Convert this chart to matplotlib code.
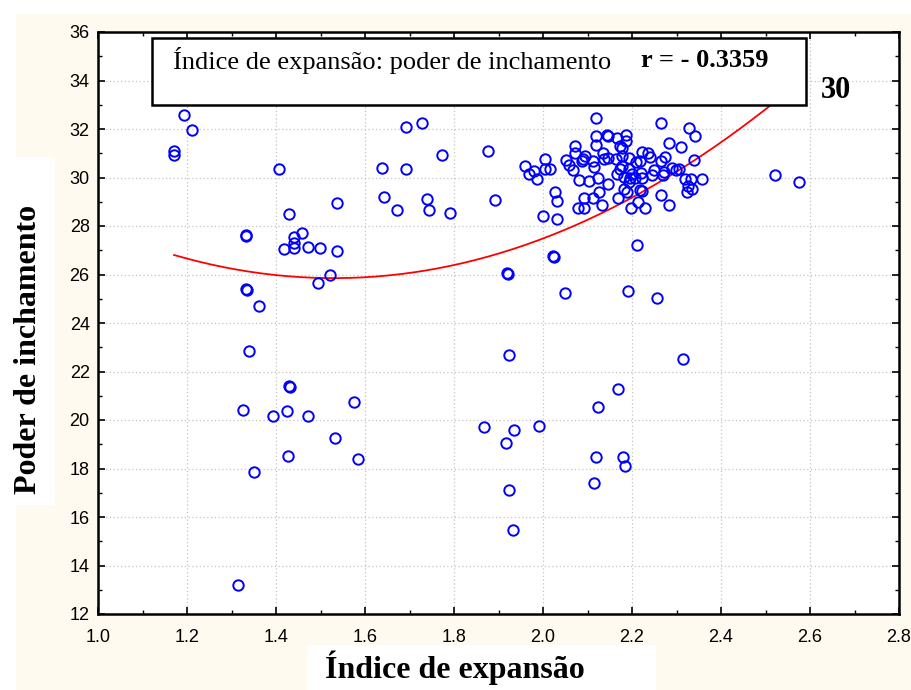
import matplotlib
matplotlib.use("Agg")
import matplotlib.pyplot as plt
import numpy as np
from matplotlib.patches import Rectangle
from matplotlib.ticker import MultipleLocator

# Índice de expansão (x) vs. poder de inchamento (y)
expansao = [
    1.171, 1.171, 1.193, 1.211, 1.407, 1.639, 1.643, 1.672, 1.538, 1.430,
    1.332, 1.333, 1.458, 1.440, 1.440, 1.440, 1.419, 1.473, 1.498, 1.538,
    1.521, 1.495, 1.332, 1.334, 1.362, 1.340, 1.430, 1.431, 1.326, 1.424,
    1.394, 1.473, 1.575, 1.532, 1.427, 1.585, 1.350, 1.315,
    1.693, 1.729, 1.773, 1.877, 1.693, 1.740, 1.744, 1.791, 1.892, 1.920,
    1.921, 2.022, 2.024, 2.049, 2.190, 2.212, 2.001, 2.031, 2.028, 2.031,
    1.923, 2.314, 2.169, 2.123, 1.867, 1.935, 1.992, 1.916, 2.118, 2.180,
    2.184, 2.115, 1.923, 1.932, 2.256, 2.522, 2.576,
    1.960, 1.969, 1.979, 1.986, 2.004, 2.004, 2.016, 2.119, 2.266, 2.328,
    2.342, 2.284, 2.309, 2.119, 2.143, 2.146, 2.167, 2.187, 2.187, 2.119,
    2.173, 2.178, 2.072, 2.072, 2.094, 2.051, 2.059, 2.068, 2.087, 2.091,
    2.112, 2.115, 2.135, 2.137, 2.145, 2.165, 2.177, 2.177, 2.194, 2.208,
    2.219, 2.223, 2.237, 2.241, 2.265, 2.274, 2.080, 2.104, 2.123, 2.147,
    2.166, 2.174, 2.181, 2.194, 2.195, 2.201, 2.207, 2.223, 2.220, 2.246,
    2.249, 2.270, 2.273, 2.291, 2.300, 2.305, 2.320, 2.332, 2.325, 2.335,
    2.323, 2.357, 2.339, 2.266, 2.284, 2.092, 2.112, 2.079, 2.093, 2.133,
    2.126, 2.169, 2.181, 2.189, 2.194, 2.217, 2.223, 2.213, 2.198, 2.230,
]
inchamento = [
    31.08, 30.92, 32.56, 31.97, 30.33, 30.40, 29.21, 28.68, 28.94, 28.48,
    27.61, 27.58, 27.71, 27.55, 27.31, 27.08, 27.04, 27.15, 27.09, 26.95,
    25.98, 25.64, 25.40, 25.36, 24.72, 22.86, 21.42, 21.38, 20.43, 20.37,
    20.17, 20.17, 20.76, 19.26, 18.53, 18.39, 17.87, 13.19,
    32.09, 32.23, 30.92, 31.11, 30.33, 29.13, 28.68, 28.54, 29.07, 26.05,
    26.02, 26.76, 26.73, 25.25, 25.32, 27.23, 28.41, 28.27, 29.40, 29.02,
    22.67, 22.53, 21.28, 20.55, 19.71, 19.57, 19.77, 19.05, 18.46, 18.46,
    18.11, 17.40, 17.12, 15.47, 25.04, 30.12, 29.80,
    30.46, 30.13, 30.26, 29.93, 30.78, 30.33, 30.33, 32.45, 32.24, 32.05,
    31.70, 31.43, 31.24, 31.72, 31.77, 31.72, 31.63, 31.76, 31.51, 31.32,
    31.29, 31.21, 31.30, 30.99, 30.89, 30.73, 30.53, 30.30, 30.68, 30.78,
    30.66, 30.44, 31.00, 30.75, 30.82, 30.78, 30.88, 30.49, 30.82, 30.64,
    30.68, 31.06, 30.99, 30.85, 30.67, 30.85, 29.89, 29.87, 29.98, 29.75,
    30.13, 30.37, 30.01, 30.34, 29.97, 30.13, 29.97, 29.98, 30.20, 30.09,
    30.31, 30.12, 30.23, 30.40, 30.31, 30.35, 29.92, 29.92, 29.67, 29.54,
    29.40, 29.93, 30.74, 29.28, 28.87, 29.14, 29.14, 28.76, 28.76, 28.88,
    29.40, 29.16, 29.54, 29.40, 29.80, 29.50, 29.45, 29.01, 28.76, 28.74,
]

# quadratic trend as drawn in the reference: vertex and curvature
curva_vertice_x = 1.53
curva_vertice_y = 25.85
curva_a = 7.4

titulo = "Índice de expansão: poder de inchamento"
r_texto = "r = - 0.3359"
canto_texto = "30"
x_label = "Índice de expansão"
y_label = "Poder de inchamento"

CREAM = "#fffaf0"
serif = ["Liberation Serif", "DejaVu Serif"]
sans = ["Liberation Sans", "DejaVu Sans"]

fig = plt.figure(figsize=(9.11, 6.9), dpi=100, facecolor="white")
fig.patches.append(Rectangle((16 / 911, 0), 1 - 16 / 911, 676 / 690, transform=fig.transFigure,
                             facecolor=CREAM, edgecolor="none", zorder=-10))
# white boxes behind axis titles
fig.patches.append(Rectangle((0, 0.268), 55 / 911, 0.504, transform=fig.transFigure,
                             facecolor="white", edgecolor="none", zorder=-5))
fig.patches.append(Rectangle((307 / 911, 0), 349 / 911, 45 / 690, transform=fig.transFigure,
                             facecolor="white", edgecolor="none", zorder=-5))

ax = fig.add_axes([98 / 911, 76 / 690, 801 / 911, 582 / 690])
ax.set_facecolor("white")

x = np.array(expansao)
y = np.array(inchamento)

xs = np.linspace(x.min(), x.max(), 200)
ys = curva_vertice_y + curva_a * (xs - curva_vertice_x) ** 2
ax.plot(xs, ys, color="red", lw=1.3, zorder=3)

ax.plot(x, y, linestyle="none", marker="o", ms=7.5, mfc="none", mec="#0000ff", mew=1.4, zorder=4)

ax.set_xlim(1.0, 2.8)
ax.set_ylim(12, 36)
ax.xaxis.set_major_locator(MultipleLocator(0.2))
ax.xaxis.set_minor_locator(MultipleLocator(0.1))
ax.yaxis.set_major_locator(MultipleLocator(2))
ax.yaxis.set_minor_locator(MultipleLocator(1))
ax.xaxis.set_major_formatter(matplotlib.ticker.FormatStrFormatter("%.1f"))
ax.tick_params(which="both", direction="in", top=True, right=True, color="black")
ax.tick_params(which="major", length=5, width=1.2)
ax.tick_params(which="minor", length=3, width=1.0)
ax.tick_params(axis="x", pad=11)
ax.tick_params(axis="y", pad=6)
for lab in ax.get_xticklabels() + ax.get_yticklabels():
    lab.set_family(sans)
    lab.set_fontsize(13)
for sp in ax.spines.values():
    sp.set_linewidth(1.8)
ax.grid(True, which="major", color="#c4c4c4", linestyle=(0, (1, 2)), lw=0.9)
ax.set_axisbelow(True)

# header box
ax.add_patch(Rectangle((0.0674, 0.8746), 0.8166, 0.1151, transform=ax.transAxes,
                       facecolor="white", edgecolor="black", lw=1.8, zorder=6))
ax.text(0.0936, 0.951, titulo, transform=ax.transAxes, family=serif, fontsize=19,
        va="center", ha="left", zorder=7)
ax.text(0.678, 0.951, r_texto, transform=ax.transAxes, family=serif, fontsize=19,
        fontweight="bold", va="center", ha="left", zorder=7)
ax.text(0.921, 0.900, canto_texto, transform=ax.transAxes, family=serif, fontsize=22,
        fontweight="bold", va="center", ha="center", zorder=7)

fig.text(0.4995, 0.032, x_label, family=serif, fontsize=23, fontweight="bold",
         ha="center", va="center")
fig.text(0.031, 0.493, y_label, family=serif, fontsize=23, fontweight="bold",
         ha="center", va="center", rotation=90)

fig.savefig("out.png", dpi=100, facecolor=fig.get_facecolor())
